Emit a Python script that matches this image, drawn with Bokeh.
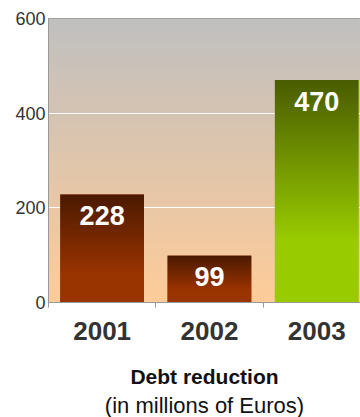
import numpy as np
from bokeh.plotting import figure
from bokeh.models import Range1d, FixedTicker, Title
from bokeh.core.properties import value
from bokeh.embed import file_html
from bokeh.resources import INLINE

# ---- data ----
years = ["2001", "2002", "2003"]
debt_reduction = [228, 99, 470]
y_ticks = [0, 200, 400, 600]
grid_ticks = [200, 400]
title_main = "Debt reduction"
title_sub = "(in millions of Euros)"

# ---- styles ----
bar_top_colors = ["#4a1a00", "#4a1a00", "#4a5c00"]
bar_bottom_colors = ["#993300", "#993300", "#99cc00"]
bg_top = "#c0c0c0"
bg_bottom = "#ffcc99"
FONT = "Liberation Sans"

xs = list(range(1, len(years) + 1))
bar_w = 0.78


def hex2rgb(h):
    h = h.lstrip("#")
    return np.array([int(h[i:i + 2], 16) for i in (0, 2, 4)], dtype=float)


def gradient(top, bottom, n=150, flat=0.0):
    f = np.linspace(0, 1, n)  # row 0 = bottom
    t = np.clip((f - flat) / (1 - flat), 0, 1)[:, None]
    rgb = hex2rgb(bottom) * (1 - t) + hex2rgb(top) * t
    img = np.empty((n, 1), dtype=np.uint32)
    v = img.view(dtype=np.uint8).reshape((n, 1, 4))
    v[:, 0, 0] = rgb[:, 0]
    v[:, 0, 1] = rgb[:, 1]
    v[:, 0, 2] = rgb[:, 2]
    v[:, 0, 3] = 255
    return img


p = figure(width=360, height=417, output_backend="svg", toolbar_location=None,
           x_range=Range1d(0.5, 3.408), y_range=Range1d(0, 600),
           min_border_left=48, min_border_right=0, min_border_top=18,
           min_border_bottom=115, background_fill_color=bg_bottom,
           border_fill_color="white")

# background gradient
p.image_rgba(image=[gradient(bg_top, bg_bottom, 300)], x=0.5, y=0,
             dw=len(years), dh=max(y_ticks), level="image")

# bars
p.vbar(x=xs, top=debt_reduction, width=bar_w, bottom=0,
       fill_color=bar_bottom_colors, line_color=None)
for x, v, ct, cb in zip(xs, debt_reduction, bar_top_colors, bar_bottom_colors):
    p.image_rgba(image=[gradient(ct, cb, 200, flat=0.28)], x=x - bar_w / 2, y=0,
                 dw=bar_w, dh=v)

# value labels
p.text(x=xs, y=debt_reduction, text=[str(v) for v in debt_reduction],
       text_align="center", text_baseline="middle", y_offset=21,
       text_color="white", text_font=value(FONT), text_font_style="bold",
       text_font_size="27px")

# axes
p.outline_line_color = "#999999"
p.xgrid.visible = False
p.ygrid.ticker = FixedTicker(ticks=grid_ticks)
p.ygrid.grid_line_color = "white"
p.ygrid.grid_line_width = 1

p.yaxis.ticker = FixedTicker(ticks=y_ticks)
p.yaxis.axis_line_color = "#999999"
p.yaxis.major_tick_line_color = None
p.yaxis.minor_tick_line_color = None
p.yaxis.major_tick_out = 0
p.yaxis.major_tick_in = 0
p.yaxis.minor_tick_out = 0
p.yaxis.major_label_standoff = 3
p.yaxis.major_label_text_font = FONT
p.yaxis.major_label_text_font_size = "18px"
p.yaxis.major_label_text_color = "#333333"

p.xaxis.ticker = FixedTicker(ticks=xs, minor_ticks=[x - 0.5 for x in xs] + [xs[-1] + 0.5])
p.xaxis.major_label_overrides = {x: y for x, y in zip(xs, years)}
p.xaxis.axis_line_color = "#999999"
p.xaxis.major_tick_line_color = None
p.xaxis.minor_tick_line_color = "#999999"
p.xaxis.minor_tick_in = 0
p.xaxis.minor_tick_out = 5
p.xaxis.major_label_standoff = 13
p.xaxis.major_label_text_font = FONT
p.xaxis.major_label_text_font_size = "26px"
p.xaxis.major_label_text_font_style = "bold"
p.xaxis.major_label_text_color = "#333333"

# main title as the x-axis label, sub title below it
p.xaxis.axis_label = title_main
p.xaxis.axis_label_standoff = 22
p.xaxis.axis_label_text_font = FONT
p.xaxis.axis_label_text_font_style = "bold"
p.xaxis.axis_label_text_font_size = "21px"
p.xaxis.axis_label_text_color = "#111111"

p.add_layout(Title(text=title_sub, align="center", offset=8, standoff=0,
                   text_font=FONT, text_font_style="normal",
                   text_font_size="22px", text_color="#111111"), "below")

open("out.html", "w").write(file_html(p, INLINE))
